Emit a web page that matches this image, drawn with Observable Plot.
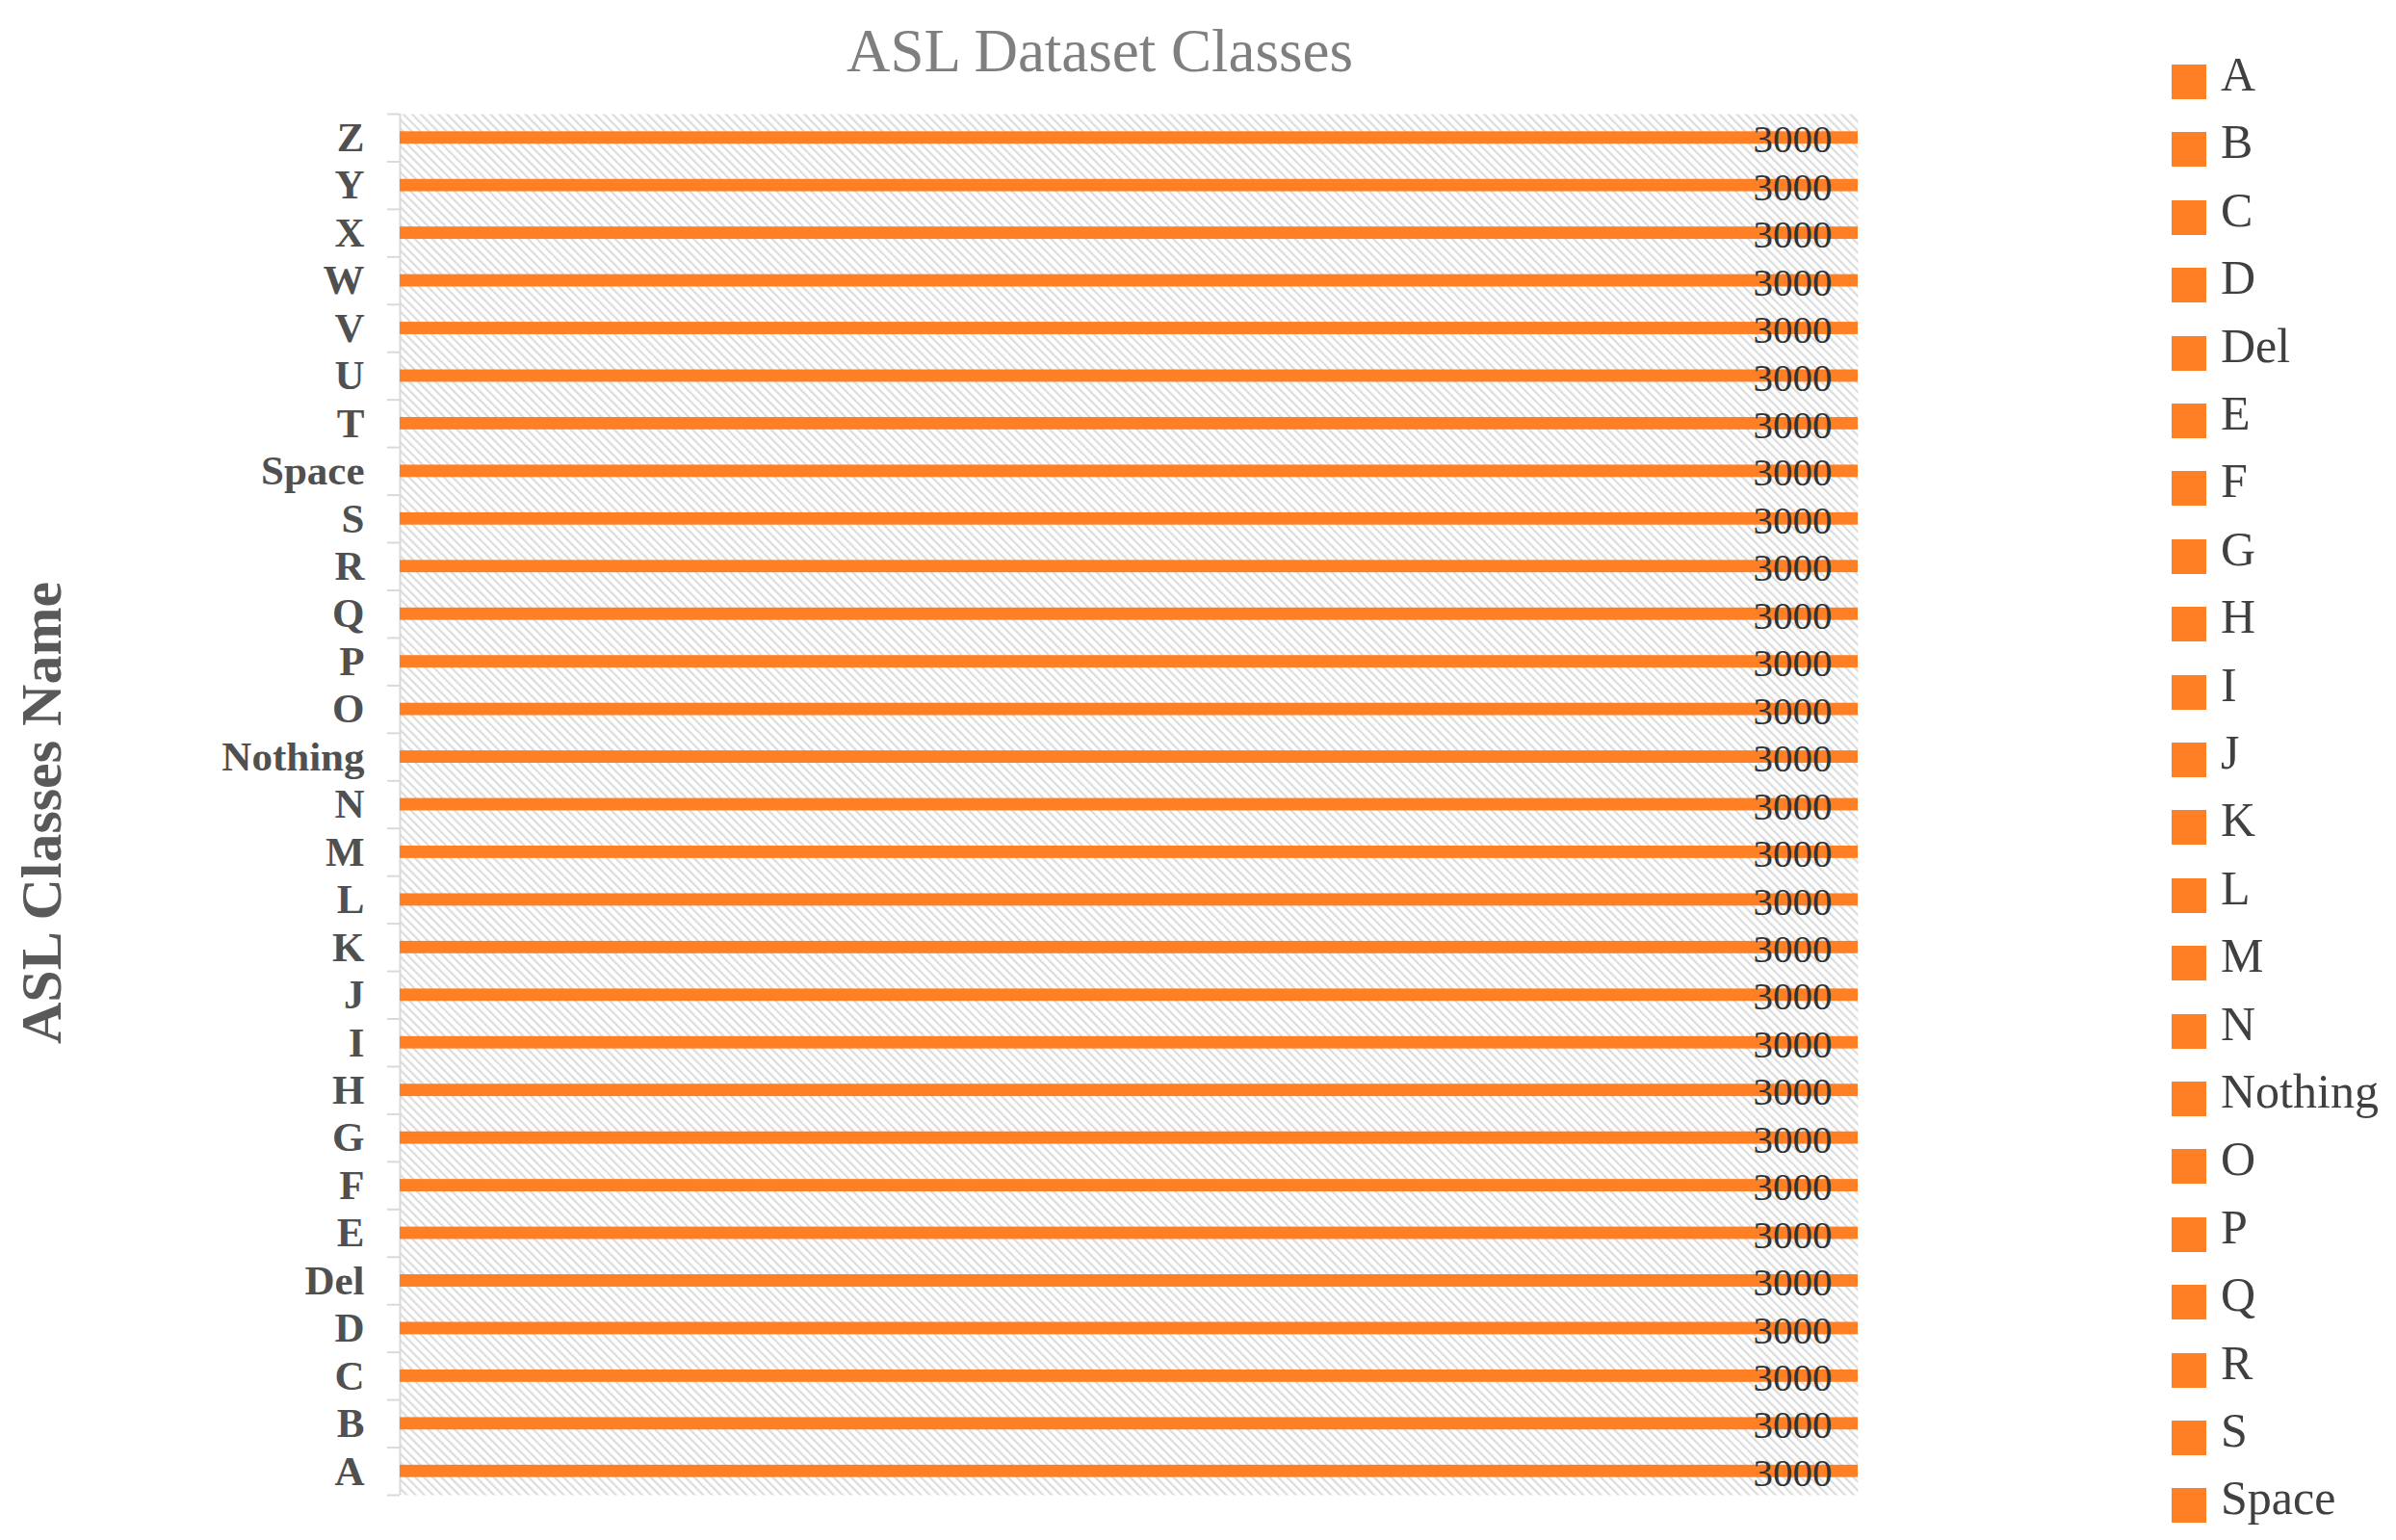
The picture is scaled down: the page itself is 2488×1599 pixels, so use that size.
<!DOCTYPE html>
<html><head><meta charset="utf-8">
<script src="https://cdn.jsdelivr.net/npm/d3@7"></script>
<script src="https://cdn.jsdelivr.net/npm/@observablehq/plot@0.6"></script>
<style>
body{margin:0;background:#fff;}
#wrap{position:relative;width:2488px;height:1599px;overflow:hidden;font-family:"Liberation Serif","Times New Roman",serif;background:#fff;}
#wrap svg{position:absolute;left:0;top:0;}
#title{position:absolute;left:542px;width:1200px;top:22px;text-align:center;font-size:63px;line-height:1;color:#7f7f7f;white-space:nowrap;}
#ylabel{position:absolute;width:800px;left:-357px;top:814px;height:60px;text-align:center;font-size:60px;line-height:1;font-weight:bold;color:#595959;transform:rotate(-90deg);transform-origin:center;white-space:nowrap;}
.lg{position:absolute;left:2255px;height:36px;display:flex;align-items:center;white-space:nowrap;}
.lg .sw{width:36px;height:36px;flex:none;}
.lg .tx{margin-left:15px;font-size:50px;line-height:1;color:#404040;position:relative;top:-8px;}
</style></head><body>
<div id="wrap"></div>
<script>
// ---- data ----
const classes = ["A","B","C","D","Del","E","F","G","H","I","J","K","L","M","N","Nothing","O","P","Q","R","S","Space","T","U","V","W","X","Y","Z"];
const counts  = [3000,3000,3000,3000,3000,3000,3000,3000,3000,3000,3000,3000,3000,3000,3000,3000,3000,3000,3000,3000,3000,3000,3000,3000,3000,3000,3000,3000,3000];
const legendItems = ["A","B","C","D","Del","E","F","G","H","I","J","K","L","M","N","Nothing","O","P","Q","R","S","Space"];
const titleText = "ASL Dataset Classes";
const yAxisTitle = "ASL Classes Name";
const xDomain = [0, 3000];

// ---- layout / style ----
const W = 2488, H = 1599;
const mL = 415, mR = 2488 - 1929, mT = 118, mB = 1599 - 1552;
const barColor = "#ff7f24";
const step = (H - mT - mB) / classes.length;

const data = classes.map((c, i) => ({cls: c, count: counts[i]}));

const chart = Plot.plot({
  width: W, height: H,
  marginLeft: mL, marginRight: mR, marginTop: mT, marginBottom: mB,
  style: {fontFamily: "'Liberation Serif', 'Times New Roman', serif", background: "transparent", overflow: "visible"},
  x: {domain: xDomain, axis: null},
  y: {domain: classes.slice().reverse(), paddingInner: 0.74, paddingOuter: 0.37, round: false, label: null},
  marks: [
    Plot.frame({fill: "url(#hatch)", stroke: "none"}),
    Plot.ruleX([0], {stroke: "#d9d9d9", strokeWidth: 2}),
    Plot.axisY({tickSize: 13, fill: "none", stroke: "#d9d9d9", strokeWidth: 2, dy: -step / 2, label: null}),
    Plot.axisY([classes[0]], {tickSize: 13, fill: "none", stroke: "#d9d9d9", strokeWidth: 2, dy: step / 2, label: null}),
    Plot.axisY({tickSize: 0, tickPadding: 37, fontSize: 43, fontWeight: "bold", fill: "#505050", label: null}),
    Plot.barX(data, {x: "count", y: "cls", fill: barColor}),
    Plot.text(data, {x: "count", y: "cls", text: d => String(d.count), textAnchor: "end", dx: -27, dy: 2, fontSize: 41, fill: "#333333"})
  ]
});

// hatch pattern definition
const ns = "http://www.w3.org/2000/svg";
const defs = document.createElementNS(ns, "defs");
defs.innerHTML = '<pattern id="hatch" patternUnits="userSpaceOnUse" width="6.4" height="6.4" patternTransform="rotate(-45)">' +
  '<rect width="6.4" height="6.4" fill="#ffffff"></rect><rect width="2.2" height="6.4" fill="#dcdcdc"></rect></pattern>';
chart.insertBefore(defs, chart.firstChild);

const wrap = document.getElementById("wrap");
wrap.appendChild(chart);

const t = document.createElement("div");
t.id = "title"; t.textContent = titleText; wrap.appendChild(t);

const yl = document.createElement("div");
yl.id = "ylabel"; yl.textContent = yAxisTitle; wrap.appendChild(yl);

const lgTop = 67, lgStep = 70.4;
legendItems.forEach((name, i) => {
  const row = document.createElement("div");
  row.className = "lg";
  row.style.top = (lgTop + i * lgStep) + "px";
  const sw = document.createElement("div");
  sw.className = "sw"; sw.style.background = barColor;
  const tx = document.createElement("div");
  tx.className = "tx"; tx.textContent = name;
  row.appendChild(sw); row.appendChild(tx);
  wrap.appendChild(row);
});
</script>
</body></html>
